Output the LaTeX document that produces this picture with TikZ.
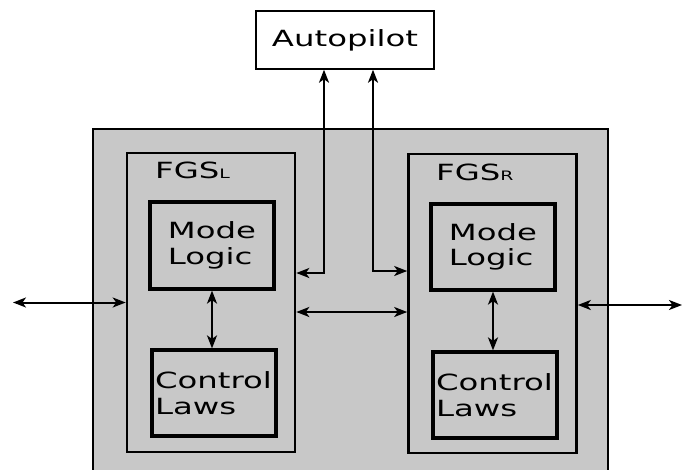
\documentclass[tikz,border=0pt]{standalone}
\usepackage{fontspec}
\setmainfont[FakeStretch=1.45]{DejaVu Sans}
\usepackage{tikz}
\usetikzlibrary{arrows.meta, positioning, calc}
\definecolor{panelgray}{RGB}{200,200,200}

\begin{document}
\begin{tikzpicture}[
    x=1pt, y=-1pt,
    every node/.style={font=\fontsize{22.3}{25.5}\selectfont, inner sep=0pt},
    unit/.style={rectangle, draw=black, line width=1.4pt, minimum width=#1},
    fgs/.style={rectangle, draw=black, line width=2.6pt, minimum width=168pt, minimum height=299pt},
    block/.style={rectangle, draw=black, line width=3.2pt, minimum width=124pt, minimum height=86pt, align=left},
    tag/.style={anchor=base west},
    arrow/.style={{Stealth[length=13pt, width=10pt, inset=3.5pt]}-{Stealth[length=13pt, width=10pt, inset=3.5pt]}, line width=2pt}
]

\clip (0,0) rectangle (683,469);

\node[unit=178pt, minimum height=58pt] (ap) at (345,40) {Autopilot};

\node[unit=515pt, minimum height=361pt, fill=panelgray] (sys) at (350.5,309.5) {};

\node[fgs] (fgsl) at (211,302.5) {};
\node[fgs] (fgsr) at (492.5,303.5) {};

\node[tag] (fgsltag) at (155,178) {FGS{\fontsize{13}{15}\selectfont L}};
\node[tag] (fgsrtag) at (436,180) {FGS{\fontsize{13}{15}\selectfont R}};

\node[block, minimum height=87pt] (mll) at (212,245.5) {Mode\\Logic};
\node[block, text width=118pt, inner xsep=3pt] (cll) at (214,393) {Control\\Laws};
\node[block] (mlr) at (493,247) {Mode\\Logic};
\node[block, text width=118pt, inner xsep=3pt] (clr) at (495,395) {Control\\Laws};

\coordinate (extl) at (13,302.5);
\coordinate (extr) at (682,305);
\coordinate (midl) at (295,312);
\coordinate (apl) at (324,273);
\coordinate (apr) at (373,271);

\draw[arrow] (extl) -- (fgsl.west |- extl);
\draw[arrow] (fgsr.east |- extr) -- (extr);
\draw[arrow] (fgsl.east |- midl) -- (fgsr.west |- midl);
\draw[arrow] (ap.south -| apl) |- (fgsl.east |- apl);
\draw[arrow] (ap.south -| apr) |- (fgsr.west |- apr);
\draw[arrow] (mll.south) -- (mll.south |- cll.north);
\draw[arrow] (mlr.south) -- (mlr.south |- clr.north);

\end{tikzpicture}
\end{document}
